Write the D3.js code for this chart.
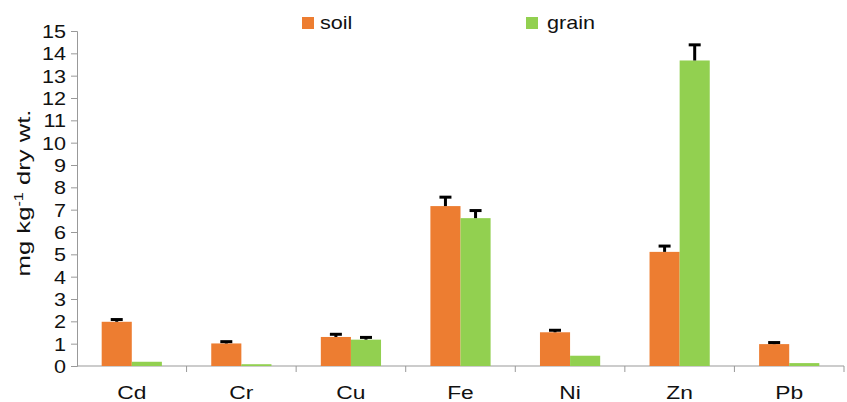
<!DOCTYPE html>
<html>
<head>
<meta charset="utf-8">
<script src="https://cdn.jsdelivr.net/npm/d3@7"></script>
<style>
  body { margin: 0; background: #fff; }
  text { font-family: "Liberation Sans", Arial, sans-serif; fill: #111; }
</style>
</head>
<body>
<svg id="chart" width="847" height="402"></svg>
<script>
// data
let metals = ["Cd", "Cr", "Cu", "Fe", "Ni", "Zn", "Pb"];
let series = ["soil", "grain"];
let soilVals = [1.98, 1.01, 1.30, 7.16, 1.51, 5.11, 0.98];
let soilErr = [0.10, 0.08, 0.12, 0.40, 0.09, 0.26, 0.07];
let grainVals = [0.19, 0.08, 1.18, 6.62, 0.46, 13.68, 0.13];
let grainErr = [0, 0, 0.10, 0.34, 0, 0.70, 0];
let yTicks = d3.range(0, 16);
let colors = ["#ED7D31", "#92D050"];

let rows = metals.map((m, i) => ({
  metal: m,
  vals: [
    { key: "soil", v: soilVals[i], e: soilErr[i] },
    { key: "grain", v: grainVals[i], e: grainErr[i] }
  ]
}));

let svg = d3.select("#chart");
let margin = { left: 77, right: 3, top: 31, bottom: 36 };
let width = 847, height = 402;
let sx = 1.2; // text in the original looks stretched sideways

let x = d3.scaleBand()
  .domain(metals)
  .range([margin.left, width - margin.right])
  .paddingInner(0)
  .paddingOuter(0);

let y = d3.scaleLinear()
  .domain([0, 15])
  .range([height - margin.bottom, margin.top]);

let x1 = d3.scaleBand()
  .domain(series)
  .range([0, x.bandwidth()])
  .paddingInner(0)
  .paddingOuter(0.82);

let color = d3.scaleOrdinal().domain(series).range(colors);

// axes
let yAxis = svg.append("g")
  .attr("transform", `translate(${margin.left},0)`)
  .call(d3.axisLeft(y).tickValues(yTicks).tickSize(6).tickPadding(0).tickFormat(d3.format("d")));
yAxis.selectAll("path, line").attr("stroke", "#999");
yAxis.selectAll("text")
  .attr("x", 0)
  .attr("dy", "0.36em")
  .attr("transform", `translate(-11,0) scale(${sx},1)`)
  .style("font-size", "18px");

let xAxis = svg.append("g")
  .attr("transform", `translate(0,${y(0)})`);
xAxis.append("line")
  .attr("x1", margin.left).attr("x2", width - margin.right)
  .attr("stroke", "#999");
xAxis.selectAll(".tk")
  .data(metals)
  .enter()
  .append("line")
  .attr("x1", d => x(d) + x.bandwidth())
  .attr("x2", d => x(d) + x.bandwidth())
  .attr("y1", 0).attr("y2", 6)
  .attr("stroke", "#999");
xAxis.selectAll(".lbl")
  .data(metals)
  .enter()
  .append("text")
  .attr("transform", d => `translate(${x(d) + x.bandwidth() / 2},33) scale(${sx},1)`)
  .attr("text-anchor", "middle")
  .style("font-size", "19px")
  .text(d => d);

// bars
let groups = svg.selectAll(".grp")
  .data(rows)
  .enter()
  .append("g")
  .attr("transform", d => `translate(${x(d.metal)},0)`);

groups.selectAll("rect")
  .data(d => d.vals)
  .enter()
  .append("rect")
  .attr("x", d => x1(d.key))
  .attr("width", x1.bandwidth())
  .attr("y", d => y(d.v))
  .attr("height", d => y(0) - y(d.v))
  .attr("fill", d => color(d.key));

// error bars (upper only)
let errs = groups.selectAll(".err")
  .data(d => d.vals.filter(v => v.e > 0))
  .enter()
  .append("g");
errs.append("line")
  .attr("x1", d => x1(d.key) + x1.bandwidth() / 2)
  .attr("x2", d => x1(d.key) + x1.bandwidth() / 2)
  .attr("y1", d => y(d.v))
  .attr("y2", d => y(d.v + d.e))
  .attr("stroke", "#000")
  .attr("stroke-width", 3);
errs.append("line")
  .attr("x1", d => x1(d.key) + x1.bandwidth() / 2 - 6)
  .attr("x2", d => x1(d.key) + x1.bandwidth() / 2 + 6)
  .attr("y1", d => y(d.v + d.e))
  .attr("y2", d => y(d.v + d.e))
  .attr("stroke", "#000")
  .attr("stroke-width", 3);

// y label
svg.append("text")
  .attr("transform", `translate(30,193) rotate(-90) scale(1.35,1)`)
  .attr("text-anchor", "middle")
  .style("font-size", "19px")
  .html('mg kg<tspan dy="-7" style="font-size:12px">-1</tspan><tspan dy="7"> dry wt.</tspan>');

// legend
let legendX = [302, 526];
let leg = svg.selectAll(".leg")
  .data(series)
  .enter()
  .append("g")
  .attr("transform", (d, i) => `translate(${legendX[i]},17)`);
leg.append("rect")
  .attr("width", 12).attr("height", 12)
  .attr("fill", d => color(d));
leg.append("text")
  .attr("transform", (d, i) => `translate(${i === 0 ? 18 : 21},11.5) scale(${sx},1)`)
  .style("font-size", "18px")
  .text(d => d);
</script>
</body>
</html>
